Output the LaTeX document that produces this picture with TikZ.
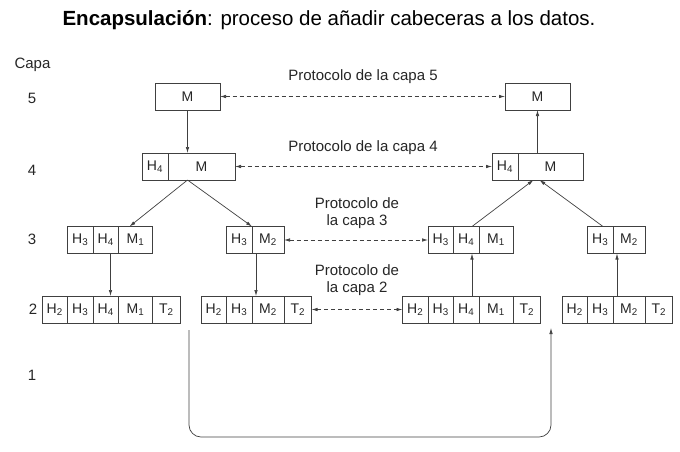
\documentclass[tikz,border=0pt]{standalone}
\usepackage{fontspec}
\setmainfont{Liberation Sans}
\usetikzlibrary{arrows.meta,positioning}

\begin{document}
\begin{tikzpicture}[x=1pt, y=-1pt, line width=0.7pt,
    cell/.style={draw=black!75, outer sep=0pt, inner sep=0pt, minimum height=27pt,
      font=\fontsize{14}{14}\selectfont, text=black!85},
    hcell/.style={cell, minimum width=25.5pt},
    mcell/.style={cell, minimum width=34pt},
    ncell/.style={cell, minimum width=32pt},
    tcell/.style={cell, minimum width=27.5pt},
    lbl/.style={font=\fontsize{15}{17.5}\selectfont, align=center, text=black!85},
    arr/.style={-{Latex[length=6pt,width=3.5pt]}, draw=black!75},
    proto/.style={{Latex[length=6pt,width=3.5pt]}-{Latex[length=6pt,width=3.5pt]},
      dash pattern=on 4pt off 3pt, draw=black!75}]
                \useasboundingbox (0,0) rectangle (680,451);

                \node[font=\fontsize{20.5}{24}\selectfont] (title) at (329,20)
                    {\textbf{Encapsulación}: proceso de añadir cabeceras a los datos.};

                \node[lbl] (capa) at (32.5,65) {Capa};
                \node[lbl] (n5) at (32,98) {5};
                \node[lbl] (n4) at (32,170) {4};
                \node[lbl] (n3) at (32,239) {3};
                \node[lbl] (n2) at (33,309) {2};
                \node[lbl] (n1) at (32,375) {1};

                \begin{scope}
                    \node[cell, minimum width=65pt] (5l) at (187.5,96.5) {M};
                    \node[cell, minimum width=65pt] (5r) at (537.5,96.5) {M};

                    \node[cell, minimum width=26pt, anchor=west] (4lh) at (142,166.5) {H\textsubscript{4}};
                    \node[cell, minimum width=67pt, right=0pt of 4lh] (4lm) {M};
                    \node[cell, minimum width=26pt, anchor=west] (4rh) at (492,166.5) {H\textsubscript{4}};
                    \node[cell, minimum width=65pt, right=0pt of 4rh] (4rm) {M};
                \end{scope}

                \begin{scope}
                    \node[hcell, anchor=west] (3ah3) at (67.5,240) {H\textsubscript{3}};
                    \node[hcell, right=0pt of 3ah3] (3ah4) {H\textsubscript{4}};
                    \node[mcell, right=0pt of 3ah4] (3am1) {M\textsubscript{1}};
                    \node[hcell, anchor=west] (3bh3) at (226.5,240) {H\textsubscript{3}};
                    \node[ncell, right=0pt of 3bh3] (3bm2) {M\textsubscript{2}};
                    \node[hcell, anchor=west] (3ch3) at (428,240) {H\textsubscript{3}};
                    \node[hcell, right=0pt of 3ch3] (3ch4) {H\textsubscript{4}};
                    \node[mcell, right=0pt of 3ch4] (3cm1) {M\textsubscript{1}};
                    \node[hcell, anchor=west] (3dh3) at (587.5,240) {H\textsubscript{3}};
                    \node[ncell, right=0pt of 3dh3] (3dm2) {M\textsubscript{2}};
                \end{scope}

                \begin{scope}
                    \node[hcell, anchor=west] (2ah2) at (42,309.5) {H\textsubscript{2}};
                    \node[hcell, right=0pt of 2ah2] (2ah3) {H\textsubscript{3}};
                    \node[hcell, right=0pt of 2ah3] (2ah4) {H\textsubscript{4}};
                    \node[mcell, right=0pt of 2ah4] (2am1) {M\textsubscript{1}};
                    \node[tcell, right=0pt of 2am1] (2at2) {T\textsubscript{2}};
                    \node[hcell, anchor=west] (2bh2) at (201,309.5) {H\textsubscript{2}};
                    \node[hcell, right=0pt of 2bh2] (2bh3) {H\textsubscript{3}};
                    \node[ncell, right=0pt of 2bh3] (2bm2) {M\textsubscript{2}};
                    \node[tcell, right=0pt of 2bm2] (2bt2) {T\textsubscript{2}};
                    \node[hcell, anchor=west] (2ch2) at (402.5,309.5) {H\textsubscript{2}};
                    \node[hcell, right=0pt of 2ch2] (2ch3) {H\textsubscript{3}};
                    \node[hcell, right=0pt of 2ch3] (2ch4) {H\textsubscript{4}};
                    \node[mcell, right=0pt of 2ch4] (2cm1) {M\textsubscript{1}};
                    \node[tcell, right=0pt of 2cm1] (2ct2) {T\textsubscript{2}};
                    \node[hcell, anchor=west] (2dh2) at (562,309.5) {H\textsubscript{2}};
                    \node[hcell, right=0pt of 2dh2] (2dh3) {H\textsubscript{3}};
                    \node[ncell, right=0pt of 2dh3] (2dm2) {M\textsubscript{2}};
                    \node[tcell, right=0pt of 2dm2] (2dt2) {T\textsubscript{2}};
                \end{scope}

                \node[lbl] (p5) at (363,77) {Protocolo de la capa 5};
                \node[lbl] (p4) at (363,148) {Protocolo de la capa 4};
                \node[lbl] (p3) at (357,213) {Protocolo de\\la capa 3};
                \node[lbl] (p2) at (357,280) {Protocolo de\\la capa 2};

                \draw[proto] (5l) to (5r);
                \draw[proto] (4lm) to (4rh);
                \draw[proto] (3bm2) to (3ch3);
                \draw[proto] (2bt2) to (2ch2);

                \coordinate (4lout) at (5l.south |- 4lm.south);
                \coordinate (4rin) at (5r.south |- 4rm.south);
                \draw[arr] (5l.south) to (5l.south |- 4lm.north);
                \draw[arr] (5r.south |- 4rm.north) to (5r.south);
                \draw[arr] (4lout) to ([xshift=11pt]3am1.north west);
                \draw[arr] (4lout) to (3bh3.north east);
                \draw[arr] ([xshift=-7pt]3ch4.north east) to ([xshift=-4pt]4rin);
                \draw[arr] ([xshift=-10pt]3dh3.north east) to ([xshift=2pt]4rin);

                \draw[arr] ([xshift=-8pt]3ah4.south east) to ([xshift=-8pt]2ah4.north east);
                \draw[arr] ([xshift=4pt]3bm2.south west) to ([xshift=4pt]2bm2.north west);
                \draw[arr] ([xshift=-7pt]2ch4.north east) to ([xshift=-7pt]3ch4.south east);
                \draw[arr] ([xshift=4pt]2dm2.north west) to ([xshift=4pt]3dm2.south west);

                \coordinate (out) at (189,330);
                \coordinate (in) at (551,328);
                \coordinate (bot) at (0,437);
                \draw[arr, rounded corners=12pt] (out) -- (out |- bot) -- (in |- bot) -- (in);
\end{tikzpicture}
\end{document}
